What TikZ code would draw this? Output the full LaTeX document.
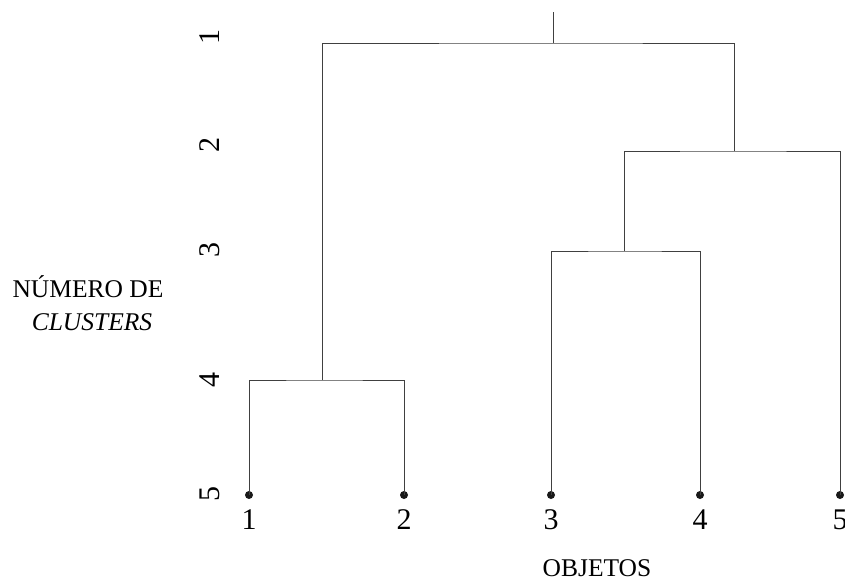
\documentclass[tikz,border=0pt]{standalone}
\usepackage{fontspec}
\setmainfont{Liberation Serif}
\begin{document}
\begin{tikzpicture}[x=1pt,y=-1pt,
  link/.style={draw=black!75,line width=1pt},
  leaf/.style={circle,fill=black!90,inner sep=0pt,minimum size=8pt},
  lab/.style={font=\fontsize{30}{33}\selectfont,inner sep=0pt},
  ylab/.style={font=\fontsize{30}{33}\selectfont,inner sep=0pt,rotate=90},
  ttl/.style={font=\fontsize{25.5}{28}\selectfont,inner sep=0pt}]
\useasboundingbox (0,0) rectangle (845,581);
% leaves
\node[leaf] (l1) at (249,495) {};
\node[leaf] (l2) at (404,495) {};
\node[leaf] (l3) at (551,495) {};
\node[leaf] (l4) at (700,495) {};
\node[leaf] (l5) at (840,495) {};
% leaf labels
\node[lab] (t1) at (249,520) {1};
\node[lab] (t2) at (404,520) {2};
\node[lab] (t3) at (551,520) {3};
\node[lab] (t4) at (700,520) {4};
\node[lab] (t5) at (840,520) {5};
% merge points
\coordinate (m12) at (322,380);
\coordinate (m34) at (624,251);
\coordinate (m345) at (734,151);
\coordinate (root) at (553,43);
\coordinate (top) at (553,12);
% connectors
\draw[link] (l1.center) |- (m12) -| (l2.center);
\draw[link] (l3.center) |- (m34) -| (l4.center);
\draw[link] (m34) |- (m345) -| (l5.center);
\draw[link] (m12) |- (root) -| (m345);
\draw[link] (root) -- (top);
% y axis labels
\node[ylab] (y1) at (210,37) {1};
\node[ylab] (y2) at (210,145) {2};
\node[ylab] (y3) at (210,250) {3};
\node[ylab] (y4) at (210,380) {4};
\node[ylab] (y5) at (210,494) {5};
% axis titles
\node[ttl] (nd) at (88,287) {NÚMERO DE};
\node[ttl,font=\fontsize{25.5}{28}\selectfont\itshape] (cl) at (92,322) {CLUSTERS};
\node[ttl] (ob) at (597,568) {OBJETOS};
\end{tikzpicture}
\end{document}
